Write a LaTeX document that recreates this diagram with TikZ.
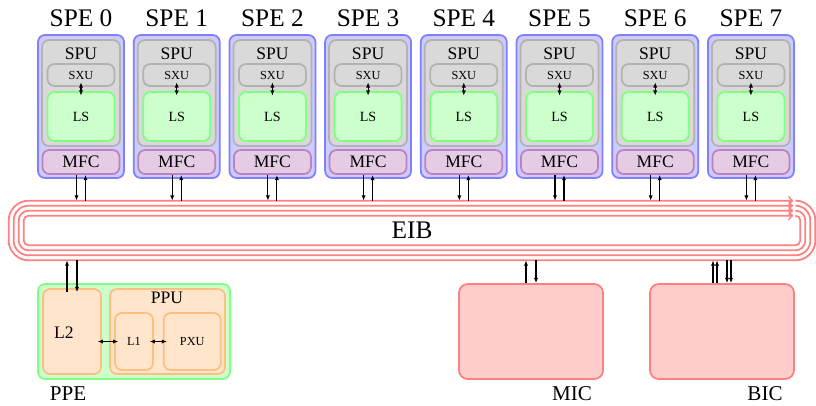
\documentclass[tikz,border=0pt]{standalone}
\usepackage{fontspec}
\setmainfont{Liberation Serif}
\usetikzlibrary{calc,positioning,arrows.meta}

\begin{document}
\begin{tikzpicture}[>={Latex[length=3pt,width=2.4pt]},
    spebox/.style={draw=blue!50, fill=blue!20, line width=1pt, rounded corners=4pt},
    spubox/.style={draw=gray!60, fill=gray!30, line width=1pt, rounded corners=4pt},
    lsbox/.style={draw=green!50, fill=green!20, line width=1pt, rounded corners=4pt},
    mfcbox/.style={draw=violet!50, fill=violet!20, line width=1pt, rounded corners=4pt},
    ppubox/.style={draw=orange!50, fill=orange!20, line width=1pt, rounded corners=4pt},
    iobox/.style={draw=red!50, fill=red!20, line width=1pt, rounded corners=5pt},
    eibline/.style={draw=red!50, line width=1pt},
    link/.style={semithick}
]
    \useasboundingbox (0,0) rectangle (16.32,-8.1);

    % Bus
    \node [minimum width=16.12cm,
        minimum height=1.18cm,
        inner sep=0pt,
        font=\Large
    ] (EIB) at (8.24,-4.61) {EIB};
    \foreach \k in {0,...,3} {
        \pgfmathsetmacro{\off}{0.1*\k}
        \pgfmathsetmacro{\rad}{0.4-0.1*\k}
        \draw[eibline, -to, rounded corners=\rad cm]
            ($(EIB.north east)+(-0.4,-\off)$) -- ($(EIB.north east)+(-\off,-\off)$)
            -- ($(EIB.south east)+(-\off,\off)$) -- ($(EIB.south west)+(\off,\off)$)
            -- ($(EIB.north west)+(\off,-\off)$) -- ($(EIB.north east)+(-0.44,-\off)$);
    }

    % SPEs
    \foreach \i in {0,...,7} {
        \pgfmathsetmacro{\xc}{1.62+1.914*\i}
        \node [spebox,
            minimum width=1.72cm,
            minimum height=2.86cm
        ] (SPE\i) at (\xc,-2.13) {};
        \node [font=\Large] (SPEtitle\i) at (\xc,-0.36) {SPE \i};
        \node [spubox,
            minimum width=1.56cm,
            minimum height=2.12cm
        ] (SPU\i) at (\xc,-1.86) {};
        \node (SPUtext\i) at (\xc,-1.08) {SPU};
        \node [spubox,
            minimum width=1.34cm,
            minimum height=0.44cm,
            font=\scriptsize
        ] (SXU\i) at (\xc,-1.50) {SXU};
        \node [lsbox,
            minimum width=1.34cm,
            minimum height=0.98cm,
            font=\footnotesize
        ] (LS\i) at (\xc,-2.33) {LS};
        \node [mfcbox,
            minimum width=1.54cm,
            minimum height=0.48cm
        ] (MFC\i) at (\xc,-3.24) {MFC};
        \draw[link,<->, shorten <=-2.6pt, shorten >=-2.6pt] (SXU\i.south) -- (LS\i.north);
        % Arrows to the bus
        \coordinate (mfcdown\i) at ([xshift=-0.09cm]MFC\i.south);
        \coordinate (mfcup\i) at ([xshift=0.09cm]MFC\i.south);
        \draw[link,->] (mfcdown\i) -- (mfcdown\i |- EIB.north);
        \draw[link,<-] (mfcup\i) -- (mfcup\i |- EIB.north);
    }

    % PPE
    \node [lsbox,
        minimum width=3.84cm,
        minimum height=1.9cm
    ] (PPE) at (2.68,-6.63) {};
    \node [font=\large] (PPEtext) at (1.36,-7.88) {PPE};
    \node [ppubox,
        minimum width=1.16cm,
        minimum height=1.7cm
    ] (L2) at (1.44,-6.63) {};
    \node (L2text) at (1.28,-6.66) {L2};
    \node [ppubox,
        minimum width=2.3cm,
        minimum height=1.7cm
    ] (PPU) at (3.35,-6.63) {};
    \node (PPUtext) at (3.34,-5.96) {PPU};
    \node [ppubox,
        minimum width=0.76cm,
        minimum height=1.14cm,
        font=\scriptsize
    ] (L1) at (2.68,-6.83) {L1};
    \node [ppubox,
        minimum width=1.14cm,
        minimum height=1.14cm,
        font=\scriptsize,
        right=0.18cm of L1
    ] (PXU) {PXU};
    \draw[link,<->, shorten <=-2.4pt, shorten >=-2.4pt] (L2.east |- L1) -- (L1.west);
    \draw[link,<->, shorten <=-2.4pt, shorten >=-2.4pt] (L1.east) -- (PXU.west);
    \coordinate (ppeup) at ([xshift=-0.1cm, yshift=-0.08cm]L2.north);
    \coordinate (ppedown) at ([xshift=0.1cm, yshift=-0.08cm]L2.north);
    \draw[link,->] (ppeup) -- (ppeup |- EIB.south);
    \draw[link,<-] (ppedown) -- (ppedown |- EIB.south);

    % MIC and BIC
    \node [iobox,
        minimum width=2.88cm,
        minimum height=1.9cm
    ] (MIC) at (10.62,-6.63) {};
    \node [font=\large] (MICtext) at (11.44,-7.88) {MIC};
    \node [iobox,
        minimum width=2.88cm,
        minimum height=1.9cm
    ] (BIC) at (14.44,-6.63) {};
    \node [font=\large] (BICtext) at (15.3,-7.88) {BIC};
    \coordinate (micup) at ([xshift=-0.1cm]MIC.north);
    \coordinate (micdown) at ([xshift=0.1cm]MIC.north);
    \draw[link,->] (micup) -- (micup |- EIB.south);
    \draw[link,<-] (micdown) -- (micdown |- EIB.south);
    \coordinate (bicupA) at ([xshift=-0.18cm]BIC.north);
    \coordinate (bicupB) at ([xshift=-0.1cm]BIC.north);
    \coordinate (bicdownA) at ([xshift=0.1cm]BIC.north);
    \coordinate (bicdownB) at ([xshift=0.18cm]BIC.north);
    \draw[link,->] (bicupA) -- (bicupA |- EIB.south);
    \draw[link,->] (bicupB) -- (bicupB |- EIB.south);
    \draw[link,<-] (bicdownA) -- (bicdownA |- EIB.south);
    \draw[link,<-] (bicdownB) -- (bicdownB |- EIB.south);

\end{tikzpicture}
\end{document}
